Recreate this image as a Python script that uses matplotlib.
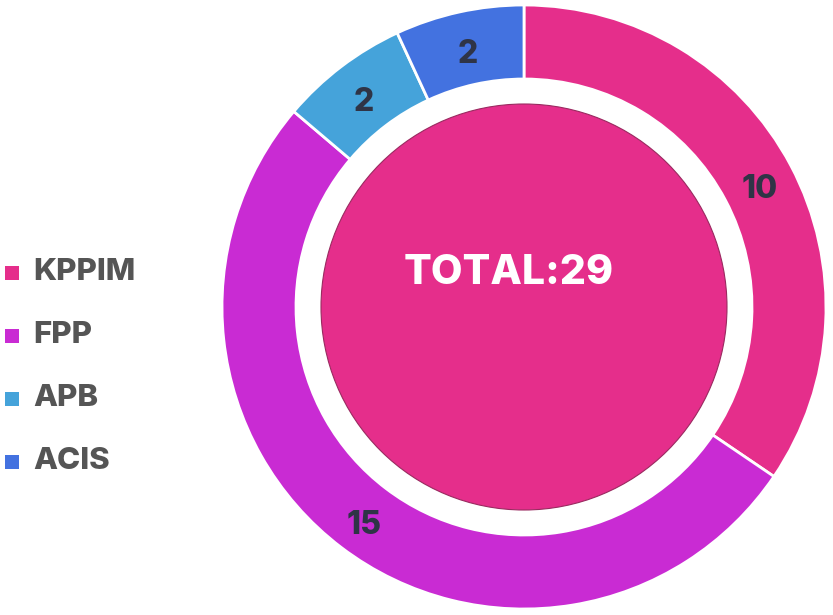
import matplotlib
matplotlib.use("Agg")
import matplotlib.pyplot as plt
from matplotlib.patches import Circle, Rectangle

plt.rcParams["font.family"] = ["Inter", "DejaVu Sans"]

categories = ["KPPIM", "FPP", "APB", "ACIS"]
counts = [10, 15, 2, 2]
colors = ["#E52E8B", "#C92BD3", "#45A3DA", "#4372E0"]
total = sum(counts)

W, H = 833, 615
fig = plt.figure(figsize=(W / 100, H / 100), dpi=100)
ax = fig.add_axes([0, 0, 1, 1])
ax.set_xlim(0, W)
ax.set_ylim(0, H)
ax.set_aspect("equal")
ax.axis("off")

cx, cy, R = 524, 308, 302
wedges, texts = ax.pie(
    counts, colors=colors, labels=[str(c) for c in counts], labeldistance=0.88,
    startangle=90, counterclock=False, center=(cx, cy), radius=R,
    wedgeprops=dict(width=R - 228, edgecolor="white", linewidth=2),
    textprops=dict(fontsize=23, fontweight="heavy", color="#2f3446"),
)
for t in texts:
    t.set_ha("center")
    t.set_va("center")
    x, y = t.get_position()
    t.set_position((x + 1, y - 7))
ax.set_xlim(0, W)
ax.set_ylim(0, H)

ax.add_patch(Circle((cx, cy), 203, facecolor=colors[0], edgecolor="#9a2a60", linewidth=0.8))
ax.text(cx - 15, cy + 34, f"TOTAL:{total}", ha="center", va="center",
        fontsize=29.5, fontweight="heavy", color="white")

# legend
for i, (name, col) in enumerate(zip(categories, colors)):
    y = H - 272 - i * 63
    ax.add_patch(Rectangle((5, y - 8), 14, 14, facecolor=col, edgecolor="none"))
    ax.text(33, y, name, ha="left", va="center", fontsize=22.5, fontweight="heavy",
            color="#555555")

fig.savefig("out.png", dpi=100)
